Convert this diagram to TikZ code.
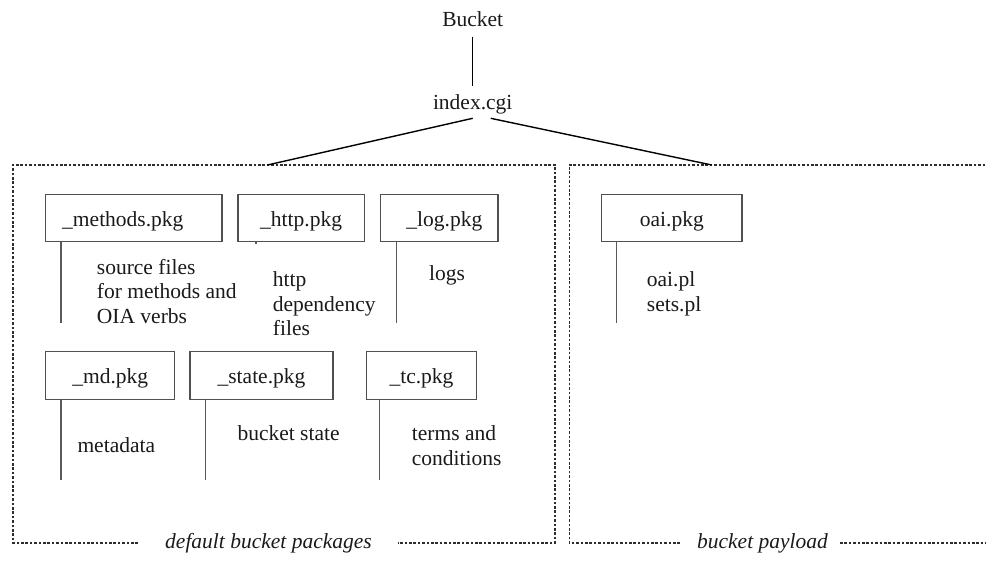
\documentclass[tikz,border=0pt]{standalone}
\usepackage{fontspec}
\setmainfont{Liberation Serif}
\definecolor{txt}{HTML}{1A1A1A}
\definecolor{boxc}{HTML}{505050}
\definecolor{linec}{HTML}{5A5A5A}
\definecolor{dotc}{HTML}{2E2E2E}
\tikzset{
  fnt/.style={font=\fontsize{21.5}{24.5}\selectfont, text=txt},
  pkg/.style={fnt, draw=boxc, line width=1.1pt, inner sep=0pt, minimum height=47.5pt,
              text height=18.2pt, text depth=1.8pt},
  desc/.style={fnt, align=left, anchor=north west, inner sep=0pt},
  stem/.style={draw=linec, line width=1.1pt},
  tree/.style={draw=black, line width=1.4pt},
  dotframe/.style={draw=dotc, line width=1.6pt, dash pattern=on 2.6pt off 1.8pt},
  lbl/.style={font=\fontsize{21.5}{24.5}\selectfont\itshape, text=txt, inner sep=0pt, anchor=base},
  top/.style={fnt, inner sep=0pt, anchor=base}
}
\begin{document}
\begin{tikzpicture}[x=1pt,y=-1pt]
\useasboundingbox (0,0) rectangle (986,561);

% root
\node[top] (bucket) at (472.7,27) {Bucket};
\node[top] (index) at (472.7,110) {index.cgi};
\draw[tree] ([yshift=-9.7pt]bucket.base) -- ([yshift=24pt]index.base);

% frames
\coordinate (ltop) at (267.5,165);
\coordinate (rtop) at (711.7,165);
\draw[dotframe] (138,543) -- (13,543) -- (13,165) -- (555,165) -- (555,543) -- (398,543);
\draw[dotframe] (680,543) -- (569.3,543) -- (569.3,165) -- (986,165);
\draw[dotframe] (840,543) -- (986,543);
\draw[tree] ([yshift=-8.3pt]index.base) -- (ltop);
\draw[tree] ([xshift=18pt,yshift=-8.3pt]index.base) -- (rtop);

\node[lbl] (deflbl) at (268.5,548) {default bucket packages};
\node[lbl] (paylbl) at (762.5,548) {bucket payload};

% top row packages
\node[pkg, minimum width=176.3pt] (methods) at (133.85,217.85) {\_methods.pkg\hspace*{22pt}};
\node[pkg, minimum width=126.3pt] (http) at (301.15,217.85) {\_http.pkg};
\node[pkg, minimum width=117.3pt] (log) at (439.35,217.85) {\hspace*{10pt}\_log.pkg};
\node[pkg, minimum width=140.3pt] (oai) at (671.85,217.85) {oai.pkg};

% bottom row packages
\node[pkg, minimum width=129pt] (md) at (110.2,375.5) {\_md.pkg};
\node[pkg, minimum width=143pt] (state) at (261.5,375.5) {\_state.pkg};
\node[pkg, minimum width=110pt] (tc) at (421.5,375.5) {\_tc.pkg};

% stems
\coordinate (methodsend) at (61,323);
\coordinate (httpend) at (256,244.5);
\coordinate (logend) at (396.7,323);
\coordinate (oaiend) at (616.7,323);
\coordinate (mdend) at (61,480);
\coordinate (stateend) at (205.7,480);
\coordinate (tcend) at (379.3,480);
\draw[stem] (methods.south -| methodsend) -- (methodsend);
\draw[stem] (http.south -| httpend) -- (httpend);
\draw[stem] (log.south -| logend) -- (logend);
\draw[stem] (oai.south -| oaiend) -- (oaiend);
\draw[stem] (md.south -| mdend) -- (mdend);
\draw[stem] (state.south -| stateend) -- (stateend);
\draw[stem] (tc.south -| tcend) -- (tcend);

% descriptions (top at first baseline - 17.15)
\node[desc] (srcd) at (96.7,256.85) {\strut source files\\for methods and\\OIA verbs};
\node[desc] (httpd) at (272.7,269.55) {\strut http\\dependency\\files};
\node[desc] (logd) at (429,262.85) {\strut logs};
\node[desc] (oaid) at (646.7,269.55) {\strut oai.pl\\sets.pl};
\node[desc] (mdd) at (77.3,434.85) {\strut metadata};
\node[desc] (stated) at (237.3,422.85) {\strut bucket state};
\node[desc] (tcd) at (411.7,423.55) {\strut terms and\\conditions};
\end{tikzpicture}
\end{document}
